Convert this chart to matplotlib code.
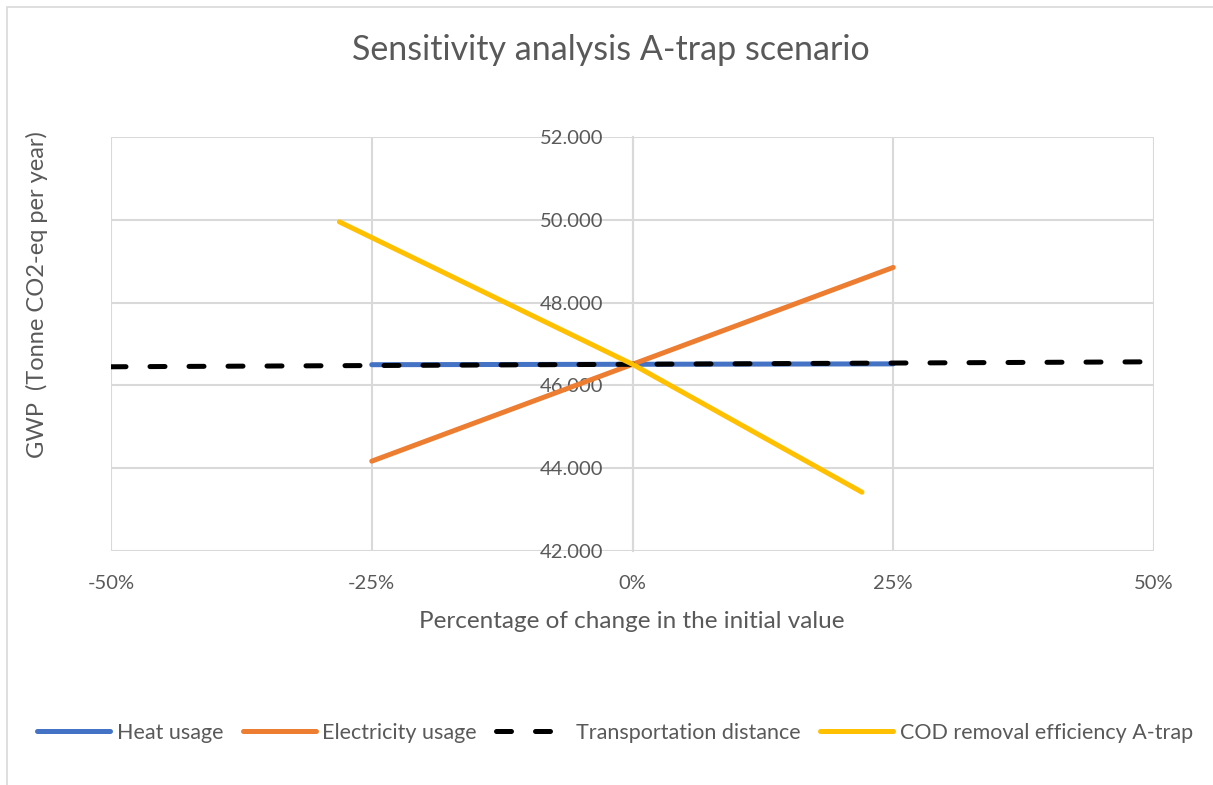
import matplotlib
matplotlib.use('Agg')
import matplotlib.pyplot as plt
from matplotlib.patches import Rectangle
from matplotlib.ticker import FuncFormatter

plt.rcParams['font.family'] = ['Lato', 'DejaVu Sans']

# data
heat_x = [-25, 0, 25]
heat_y = [46.50, 46.51, 46.52]

elec_x = [-25, 0, 25]
elec_y = [44.17, 46.51, 48.85]

trans_x = [-50, -25, 0, 25, 50]
trans_y = [46.45, 46.48, 46.51, 46.54, 46.57]

cod_x = [-28.1, 0, 22.0]
cod_y = [49.95, 46.51, 43.42]

xticks = [-50, -25, 0, 25, 50]
yticks = [42, 44, 46, 48, 50, 52]

grey = '#595959'
grid = '#d9d9d9'

fig = plt.figure(figsize=(12.13, 7.85), dpi=100)
ax = fig.add_axes([111/1213, 1 - 551/785, (1154 - 111)/1213, (551 - 137)/785])

lw = 3.6
ax.plot(heat_x, heat_y, color='#4472c4', lw=lw, solid_capstyle='round', label='Heat usage', zorder=3)
ax.plot(elec_x, elec_y, color='#ed7d31', lw=lw, solid_capstyle='round', label='Electricity usage', zorder=3)
ax.plot(trans_x, trans_y, color='black', lw=lw, dashes=(3, 4.8), dash_capstyle='round',
        label='Transportation distance', zorder=4)
ax.plot(cod_x, cod_y, color='#ffc000', lw=lw, solid_capstyle='round',
        label='COD removal efficiency A-trap', zorder=5)

ax.set_xlim(-50, 50)
ax.set_ylim(42, 52)
ax.set_xticks(xticks)
ax.set_yticks(yticks)
ax.xaxis.set_major_formatter(FuncFormatter(lambda v, p: '%d%%' % v))
ax.yaxis.set_major_formatter(FuncFormatter(lambda v, p: '%.3f' % v))
ax.grid(True, color=grid, lw=1.5, zorder=0)
ax.set_axisbelow(True)

for s in ['top', 'right', 'bottom']:
    ax.spines[s].set_visible(False)
ax.spines['left'].set_position(('data', 0))
ax.spines['left'].set_color(grid)
ax.spines['left'].set_linewidth(1.5)

ax.tick_params(axis='both', length=0, labelsize=14.5, labelcolor=grey)
ax.tick_params(axis='y', pad=21)
ax.tick_params(axis='x', pad=17)

fig.text(611/1213, 1 - 50/785, 'Sensitivity analysis A-trap scenario', ha='center', va='center',
         fontsize=24.5, color=grey)
fig.text(632/1213, 1 - 622/785, 'Percentage of change in the initial value', ha='center', va='center',
         fontsize=17.5, color=grey)
fig.text(37/1213, 1 - 295/785, 'GWP  (Tonne CO2-eq per year)', ha='center', va='center',
         rotation=90, fontsize=17, color=grey)

fig.legend(loc='center', bbox_to_anchor=(615/1213, 1 - 733/785), ncol=4, frameon=False,
           fontsize=15.5, labelcolor=grey, handlelength=3.4, handletextpad=0.3, columnspacing=0.9)

fig.patches.append(Rectangle((7/1213, -0.1), 1.2, 1 - 7/785 + 0.1, transform=fig.transFigure,
                             fill=False, edgecolor=grid, lw=1.2))

fig.savefig('out.png', dpi=100)
